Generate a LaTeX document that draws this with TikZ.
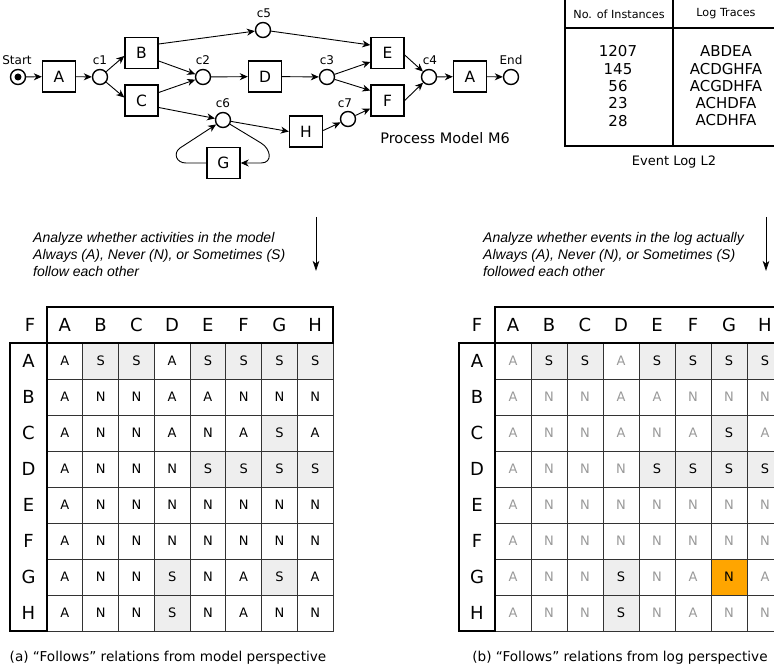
\documentclass[tikz,border=0pt]{standalone}
\usepackage{fontspec}
\setmainfont{DejaVu Sans}
\newfontfamily\arialfont{Liberation Sans}
\usetikzlibrary{arrows.meta}
\definecolor{shade}{HTML}{EEEEEE}
\definecolor{gridc}{HTML}{333333}
\definecolor{lite}{HTML}{999999}
\definecolor{orng}{HTML}{FFA500}
\newcommand\ctA{A}
\newcommand\ctN{N}
\newcommand\ctS{S}
\newcommand\ctO{N}
\begin{document}
\begin{tikzpicture}[x=1pt,y=-1pt,
  trans/.style={draw,line width=1.4pt,minimum width=33pt,minimum height=31pt,inner sep=0pt,font=\fontsize{15.5}{15.5}\selectfont},
  place/.style={circle,draw,line width=1.4pt,minimum size=15pt,inner sep=0pt},
  arc/.style={-{Stealth[length=8pt,width=7pt,inset=2.5pt]},line width=0.9pt},
  lbl/.style={font=\fontsize{12}{12}\selectfont,inner sep=0pt},
  note/.style={font=\arialfont\itshape\fontsize{14}{17}\selectfont,align=left,anchor=west,inner sep=0pt},
  captext/.style={font=\fontsize{13.6}{13.6}\selectfont,inner sep=0pt},
  hdr/.style={font=\fontsize{18}{18}\selectfont,inner sep=0pt},
  cell/.style={draw=gridc,line width=0.8pt,minimum width=35.75pt,minimum height=36pt,inner sep=0pt,font=\fontsize{13}{13}\selectfont},
  thickbox/.style={line width=1.8pt},
  lcA/.style={},lcN/.style={},lcS/.style={fill=shade},
  rcA/.style={text=lite},rcN/.style={text=lite},rcS/.style={fill=shade},rcO/.style={fill=orng},
  downarrow/.style={-{Stealth[length=10pt,width=6.5pt,inset=2.5pt]},line width=0.8pt}
]
\useasboundingbox (0,0) rectangle (774,668);

% ---------------- Process model ----------------
\node[place] (start) at (18,77) {};
\fill (start.center) circle (3.5pt);
\node[lbl] (lstart) at (17,60) {Start};
\node[trans] (A1) at (59,76.5) {A};
\node[place] (c1) at (100,77) {};
\node[lbl] (lc1) at (100,60) {c1};
\node[trans] (B) at (141.5,53) {B};
\node[trans] (C) at (141.5,100.5) {C};
\node[place] (c2) at (203,77) {};
\node[lbl] (lc2) at (203,60) {c2};
\node[place] (c5) at (263,30) {};
\node[lbl] (lc5) at (264,13) {c5};
\node[place] (c6) at (223,120) {};
\node[lbl] (lc6) at (223,103) {c6};
\node[trans] (G) at (223.5,163) {G};
\node[trans] (D) at (265,76.5) {D};
\node[trans] (H) at (306,131.5) {H};
\node[place] (c7) at (348,119) {};
\node[lbl] (lc7) at (345,103) {c7};
\node[place] (c3) at (327,77) {};
\node[lbl] (lc3) at (327,60) {c3};
\node[trans] (E) at (387.5,53) {E};
\node[trans] (F) at (387.5,100.5) {F};
\node[place] (c4) at (429,77) {};
\node[lbl] (lc4) at (430,60) {c4};
\node[trans] (A2) at (470,76.5) {A};
\node[place] (end) at (511,77) {};
\node[lbl] (lend) at (511,60) {End};
\node[font=\fontsize{14.5}{14.5}\selectfont,inner sep=0pt] (pm) at (445,138) {Process Model M6};

\draw[arc] (start) -- (A1);
\draw[arc] (A1) -- (c1);
\draw[arc] (c1) -- ([yshift=-3pt]B.west);
\draw[arc] (c1) -- ([yshift=3pt]C.west);
\draw[arc] ([yshift=-8pt]B.east) -- (c2);
\draw[arc] ([yshift=8pt]C.east) -- (c2);
\draw[arc] ([yshift=9pt]B.east) -- (c5);
\draw[arc] ([yshift=-7pt]C.east) -- (c6);
\draw[arc] (c2) -- (D);
\draw[arc] (D) -- (c3);
\draw[arc] (c6) -- (H.west);
\draw[arc] (c6) -- (261,143) .. controls (271,149) and (273,163) .. (261,163) -- (G.east);
\draw[arc] (G.west) -- (186,163) .. controls (176,163) and (173,153) .. (180,148) -- (c6);
\draw[arc] (c5) -- ([yshift=8pt]E.west);
\draw[arc] (c3) -- ([yshift=-9pt]E.west);
\draw[arc] (c3) -- ([yshift=10pt]F.west);
\draw[arc] ([yshift=1pt]H.east) -- (c7);
\draw[arc] (c7) -- ([yshift=-8pt]F.west);
\draw[arc] ([yshift=-2pt]E.east) -- (c4);
\draw[arc] (F.east) -- (c4);
\draw[arc] (c4) -- (A2);
\draw[arc] (A2) -- (end);

% ---------------- Event log ----------------
\draw[line width=1.5pt] (565,-3) -- (565,146) -- (781,146);
\draw[line width=1.5pt] (565,28) -- (781,28);
\draw[line width=1.5pt] (673,-3) -- (673,146);
\draw[line width=1.5pt] (565,-3) -- (781,-3);
\node[font=\fontsize{11.2}{11.2}\selectfont,inner sep=0pt] (hn) at (619,14) {No. of Instances};
\node[font=\fontsize{11.2}{11.2}\selectfont,inner sep=0pt] (ht) at (726,14) {Log Traces};
\node[font=\fontsize{15}{17.3}\selectfont,align=center,inner sep=0pt] (nums) at (618,86) {1207\\145\\56\\23\\28};
\node[font=\fontsize{15}{17.3}\selectfont,align=center,inner sep=0pt] (trc) at (726,86) {ABDEA\\ACDGHFA\\ACGDHFA\\ACHDFA\\ACDHFA};
\node[font=\fontsize{13}{13}\selectfont,inner sep=0pt] (el) at (674,162) {Event Log L2};

% ---------------- Notes and arrows ----------------
\node[note] (n1) at (33,254.5) {Analyze whether activities in the model\\Always (A), Never (N), or Sometimes (S)\\follow each other};
\node[note] (n2) at (483,254.5) {Analyze whether events in the log actually\\Always (A), Never (N), or Sometimes (S)\\followed each other};
\coordinate (a1s) at (316,217);
\coordinate (a1e) at (316,271);
\draw[downarrow] (a1s) -- (a1e);
\coordinate (a2s) at (766,217);
\coordinate (a2e) at (766,271);
\draw[downarrow] (a2s) -- (a2e);

% ---------------- Matrices ----------------
\def\rowsL{{A,S,S,A,S,S,S,S},{A,N,N,A,A,N,N,N},{A,N,N,A,N,A,S,A},{A,N,N,N,S,S,S,S},{A,N,N,N,N,N,N,N},{A,N,N,N,N,N,N,N},{A,N,N,S,N,A,S,A},{A,N,N,S,N,A,N,N}}
\def\rowsR{{A,S,S,A,S,S,S,S},{A,N,N,A,A,N,N,N},{A,N,N,A,N,A,S,A},{A,N,N,N,S,S,S,S},{A,N,N,N,N,N,N,N},{A,N,N,N,N,N,N,N},{A,N,N,S,N,A,O,A},{A,N,N,S,N,A,N,N}}
\foreach \row [count=\i from 0] in \rowsL {
  \foreach \v [count=\j from 0] in \row {
    \node[cell,lc\v] (L-\i-\j) at ({47+35.75*(\j+0.5)},{343+36*(\i+0.5)}) {\csname ct\v\endcsname};
  }
}
\foreach \row [count=\i from 0] in \rowsR {
  \foreach \v [count=\j from 0] in \row {
    \node[cell,rc\v,minimum width=36pt] (R-\i-\j) at ({495+36*(\j+0.5)},{343+36*(\i+0.5)}) {\csname ct\v\endcsname};
  }
}
\draw[thickbox] (47,307) rectangle (333,343);
\draw[thickbox] (10,343) rectangle (47,631);
\draw[thickbox] (495,307) rectangle (783,343);
\draw[thickbox] (459,343) rectangle (495,631);
\node[hdr] (LF) at (30,325) {F};
\node[hdr] (RF) at (477,325) {F};
\foreach \c [count=\j from 0] in {A,B,C,D,E,F,G,H} {
  \node[hdr] (LH-\j) at ({47+35.75*(\j+0.5)},325) {\c};
  \node[hdr] (LR-\j) at (28.5,{343+36*(\j+0.5)}) {\c};
  \node[hdr] (RH-\j) at ({495+36*(\j+0.5)},325) {\c};
  \node[hdr] (RR-\j) at (477,{343+36*(\j+0.5)}) {\c};
}
\node[captext] (capa) at (168,658) {(a) “Follows” relations from model perspective};
\node[captext] (capb) at (620,658) {(b) “Follows” relations from log perspective};
\end{tikzpicture}
\end{document}
